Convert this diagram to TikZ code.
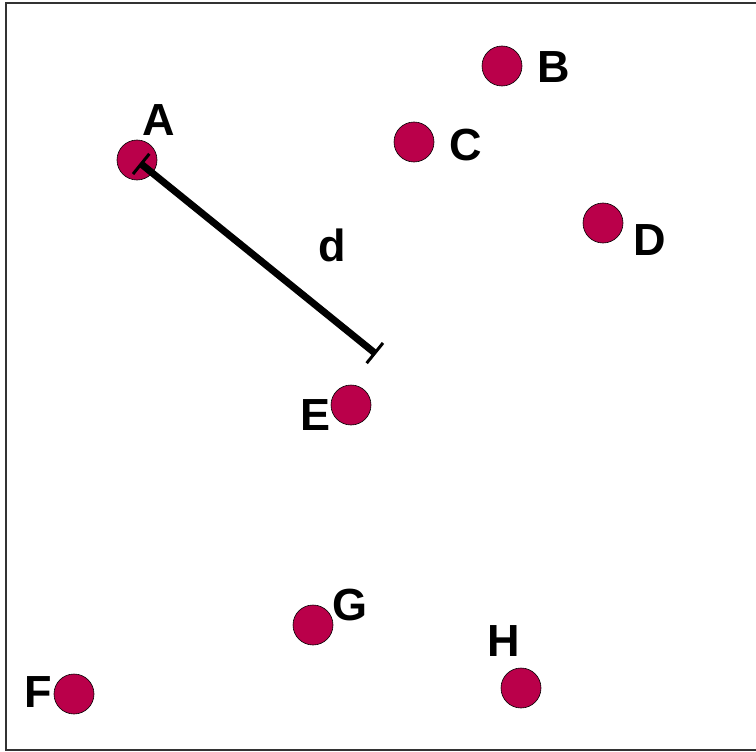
\documentclass[tikz,border=0pt]{standalone}
\usepackage{fontspec}
\setmainfont{Liberation Sans}
\usetikzlibrary{arrows.meta}
\definecolor{dotred}{RGB}{186,0,74}
\begin{document}
\begin{tikzpicture}[x=1pt,y=-1pt,
  pt/.style={circle,draw=black,line width=0.6pt,fill=dotred,minimum size=40pt,inner sep=0pt},
  lbl/.style={font=\fontsize{45}{45}\selectfont\bfseries,inner sep=0pt}]
\useasboundingbox (0,0) rectangle (756,752);
\draw[line width=1.5pt,black!80] (756,3) -- (6,3) -- (6,750) -- (756,750);
\node[pt] (A) at (137,160) {};
\node[pt] (B) at (502,66) {};
\node[pt] (C) at (414,142) {};
\node[pt] (D) at (603,223) {};
\node[pt] (E) at (351,405) {};
\node[pt] (F) at (74,694) {};
\node[pt] (G) at (313,625) {};
\node[pt] (H) at (521,688) {};
\node[lbl] (lA) at (159,120) {A};
\node[lbl] (lB) at (554,67) {B};
\node[lbl] (lC) at (466,145) {C};
\node[lbl] (lD) at (650,240) {D};
\node[lbl] (lE) at (316,415) {E};
\node[lbl] (lF) at (38,692) {F};
\node[lbl] (lG) at (350,605) {G};
\node[lbl] (lH) at (504,641) {H};
\node[lbl] (ld) at (332,245) {d};
\coordinate (dA) at (140,163);
\coordinate (dE) at (376,354);
\draw[line width=7pt,{Bar[width=26pt,line width=3pt]}-{Bar[width=26pt,line width=3pt]}] (dA) -- (dE);
\end{tikzpicture}
\end{document}
